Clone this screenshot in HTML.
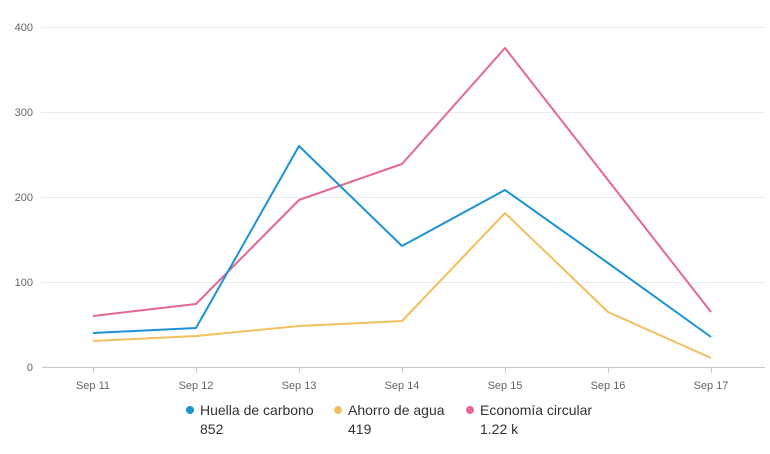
<!DOCTYPE html>
<html><head><meta charset="utf-8"><style>body{margin:0;background:#fff}svg{display:block}text{font-family:"Liberation Sans",sans-serif}</style></head>
<body>
<svg width="770" height="454" viewBox="0 0 770 454">
<g stroke="#ececec" stroke-width="1">
<line x1="41" y1="27.5" x2="765" y2="27.5"/>
<line x1="41" y1="112.5" x2="765" y2="112.5"/>
<line x1="41" y1="197.5" x2="765" y2="197.5"/>
<line x1="41" y1="282.5" x2="765" y2="282.5"/>
</g>
<line x1="42" y1="367.5" x2="765" y2="367.5" stroke="#c8c8c8"/>
<g stroke="#c8c8c8"><line x1="93.5" y1="368" x2="93.5" y2="373"/><line x1="196.5" y1="368" x2="196.5" y2="373"/><line x1="299.5" y1="368" x2="299.5" y2="373"/><line x1="402.5" y1="368" x2="402.5" y2="373"/><line x1="505.5" y1="368" x2="505.5" y2="373"/><line x1="608.5" y1="368" x2="608.5" y2="373"/><line x1="711.5" y1="368" x2="711.5" y2="373"/></g>
<g font-size="11" fill="#666" text-anchor="end">
<text x="33" y="31">400</text><text x="33" y="116">300</text><text x="33" y="201">200</text><text x="33" y="286">100</text><text x="33" y="371">0</text></g>
<g font-size="11" fill="#666" text-anchor="middle">
<text x="93" y="389">Sep 11</text><text x="196" y="389">Sep 12</text><text x="299" y="389">Sep 13</text><text x="402" y="389">Sep 14</text><text x="505" y="389">Sep 15</text><text x="608" y="389">Sep 16</text><text x="711" y="389">Sep 17</text></g>
<g fill="none" stroke-width="2" stroke-linejoin="round">
<polyline stroke="#f2bf5e" points="93,341 196,336 299,326 402,321 505,213 608,312 711,358"/>
<polyline stroke="#e5688f" points="93,316 196,304 299,200 402,164 505,48 608,180 711,312"/>
<polyline stroke="#1a93d6" points="93,333 196,328 299,146 402,246 505,190 608,263 711,337"/>
</g>
<g font-size="14" fill="#333">
<circle cx="190" cy="410" r="4" fill="#1a93d6"/><text x="200" y="415">Huella de carbono</text><text x="200" y="434">852</text>
<circle cx="338" cy="410" r="4" fill="#f2bf5e"/><text x="348" y="415">Ahorro de agua</text><text x="348" y="434">419</text>
<circle cx="470" cy="410" r="4" fill="#e5688f"/><text x="480" y="415">Economía circular</text><text x="480" y="434">1.22 k</text>
</g>
</svg>
</body></html>
